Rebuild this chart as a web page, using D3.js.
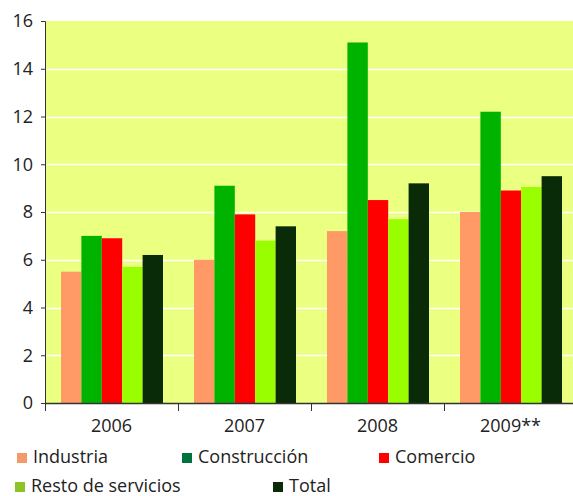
<!DOCTYPE html>
<meta charset="utf-8">
<style>
body { margin: 0; background: #fff; }
text { font-family: "Open Sans", "DejaVu Sans", sans-serif; fill: #222; }
</style>
<body>
<script src="https://d3js.org/d3.v7.min.js"></script>
<script>

// data
var years = ["2006", "2007", "2008", "2009**"];
var series = ["Industria", "Construcción", "Comercio", "Resto de servicios", "Total"];
var industria    = [5.5, 6.0, 7.2, 8.0];
var construccion = [7.0, 9.1, 15.1, 12.2];
var comercio     = [6.9, 7.9, 8.5, 8.9];
var resto        = [5.7, 6.8, 7.7, 9.05];
var total        = [6.2, 7.4, 9.2, 9.5];
var yTicks = [0, 2, 4, 6, 8, 10, 12, 14, 16];

var values = [industria, construccion, comercio, resto, total];
var barColors = ["#ff9966", "#00b300", "#ff0000", "#99ff00", "#0a2b08"];
var legendColors = ["#f39a6a", "#00733c", "#ff0000", "#8cc428", "#0a2b08"];

var W = 573, H = 496;
var margin = {top: 21, left: 45, bottom: 93};
var plotRight = 577;   // last group runs off the edge in the original

var svg = d3.select("body").append("svg")
    .attr("width", W)
    .attr("height", H);

var x = d3.scaleBand().domain(years).range([margin.left, plotRight]);
var xi = d3.scaleBand().domain(series).range([16, 118]);
var y = d3.scaleLinear().domain([0, 16]).range([H - margin.bottom, margin.top]);

// plot background
svg.append("rect")
    .attr("x", margin.left).attr("y", y(16))
    .attr("width", plotRight - margin.left).attr("height", y(0) - y(16))
    .attr("fill", "#ebff80");

// white grid lines
svg.append("g").selectAll("line")
  .data(yTicks.filter(function(d) { return d > 0 && d < 16; }))
  .enter().append("line")
    .attr("x1", margin.left).attr("x2", plotRight)
    .attr("y1", function(d) { return Math.round(y(d)) + 0.5; })
    .attr("y2", function(d) { return Math.round(y(d)) + 0.5; })
    .attr("stroke", "#fff").attr("stroke-width", 1.5);

// bars
series.forEach(function(s, i) {
  svg.append("g").selectAll("rect")
    .data(values[i])
    .enter().append("rect")
      .attr("x", function(d, j) { return x(years[j]) + xi(s); })
      .attr("width", xi.bandwidth())
      .attr("y", function(d) { return y(d); })
      .attr("height", function(d) { return y(0) - y(d); })
      .attr("fill", barColors[i]);
});

// y axis
var yAxis = svg.append("g")
    .attr("transform", "translate(" + margin.left + ",0)")
    .call(d3.axisLeft(y).tickValues(yTicks).tickSize(4).tickPadding(8));
yAxis.select(".domain").attr("stroke", "#333");
yAxis.selectAll(".tick line").attr("stroke", "#333");
yAxis.selectAll("text").style("font-size", "18px").attr("fill", "#222");

// x axis
var xAxis = svg.append("g")
    .attr("transform", "translate(0," + y(0) + ")")
    .call(d3.axisBottom(x).tickSize(0).tickPadding(16));
xAxis.select(".domain").attr("stroke", "#333").attr("stroke-width", 1.5);
xAxis.selectAll("text").style("font-size", "18px").attr("fill", "#222");
svg.append("g").selectAll("line")
  .data(years)
  .enter().append("line")
    .attr("x1", function(d) { return x(d) + 0.5; })
    .attr("x2", function(d) { return x(d) + 0.5; })
    .attr("y1", y(0)).attr("y2", y(0) + 8)
    .attr("stroke", "#333");

// legend
var legendPos = [[17, 453], [182, 453], [379, 453], [15, 482], [273, 482]];
var legend = svg.append("g").selectAll("g")
  .data(series)
  .enter().append("g")
    .attr("transform", function(d, i) { return "translate(" + legendPos[i][0] + "," + legendPos[i][1] + ")"; });
legend.append("rect")
    .attr("width", 10).attr("height", 10)
    .attr("fill", function(d, i) { return legendColors[i]; });
legend.append("text")
    .attr("x", 16).attr("y", 10)
    .style("font-size", "18px")
    .text(function(d) { return d; });

</script>
</body>
